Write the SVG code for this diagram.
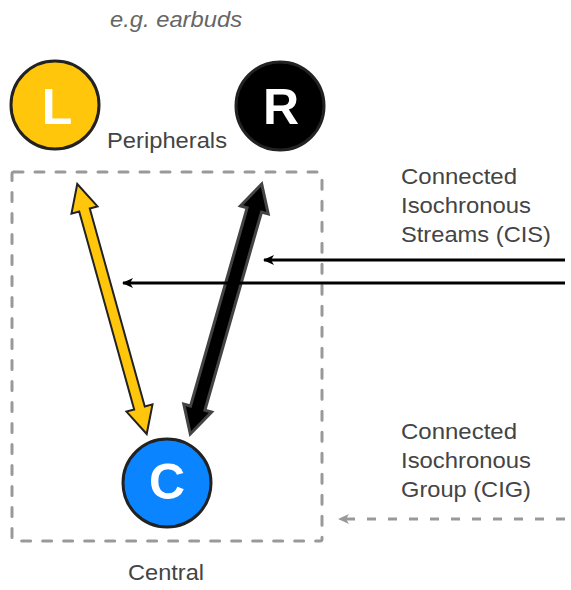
<svg xmlns="http://www.w3.org/2000/svg" width="571" height="590" viewBox="0 0 571 590">
  <defs>
    <style>
      .lbl { font-family: "Liberation Sans", Arial, sans-serif; font-size: 21.5px; fill: #444; }
      .big { font-family: "Liberation Sans", Arial, sans-serif; font-size: 50px; font-weight: bold; fill: #fff; text-anchor: middle; }
      .node { stroke: #222; stroke-width: 3; }
      .frame { fill: none; stroke: #999; stroke-width: 3; stroke-dasharray: 9 12; stroke-linecap: round; }
    </style>
    <marker id="ah" markerUnits="userSpaceOnUse" markerWidth="12" markerHeight="10" refX="10" refY="5" orient="auto">
      <path d="M0,0 L11,5 L0,10 L3,5 Z" fill="#000"/>
    </marker>
    <marker id="ahg" markerUnits="userSpaceOnUse" markerWidth="12" markerHeight="10" refX="10" refY="5" orient="auto">
      <path d="M0,0 L11,5 L0,10 L3,5 Z" fill="#999"/>
    </marker>
  </defs>
  <rect width="571" height="590" fill="#fff"/>

  <text class="lbl" x="110" y="27" textLength="132" lengthAdjust="spacingAndGlyphs" style="font-style:italic; fill:#666">e.g. earbuds</text>
  <text class="lbl" x="107" y="148" textLength="120" lengthAdjust="spacingAndGlyphs">Peripherals</text>
  <text class="lbl" x="128" y="580" textLength="76" lengthAdjust="spacingAndGlyphs">Central</text>
  <g id="cis-label">
    <text class="lbl" x="401" y="184" textLength="116" lengthAdjust="spacingAndGlyphs">Connected</text>
    <text class="lbl" x="401" y="213" textLength="130" lengthAdjust="spacingAndGlyphs">Isochronous</text>
    <text class="lbl" x="401" y="242" textLength="150" lengthAdjust="spacingAndGlyphs">Streams (CIS)</text>
  </g>
  <g id="cig-label">
    <text class="lbl" x="401" y="439" textLength="116" lengthAdjust="spacingAndGlyphs">Connected</text>
    <text class="lbl" x="401" y="468" textLength="130" lengthAdjust="spacingAndGlyphs">Isochronous</text>
    <text class="lbl" x="401" y="497" textLength="130" lengthAdjust="spacingAndGlyphs">Group (CIG)</text>
  </g>

  <g id="cig-frame">
    <rect class="frame" x="12" y="172" width="310" height="369" rx="2"/>
  </g>

  <g id="connectors">
    <polygon transform="translate(77,183) rotate(74.48)" fill="#FFC60B" stroke="#222" stroke-width="2" stroke-linejoin="miter"
      points="1,0 28,-13.5 28,-5.5 233.5,-5.5 233.5,-13.5 260.5,0 233.5,13.5 233.5,5.5 28,5.5 28,13.5"/>
    <polygon transform="translate(262,183) rotate(105.94)" fill="#000" stroke="#444" stroke-width="3" stroke-linejoin="miter"
      points="1,0 28,-14.5 28,-7.5 234.1,-7.5 234.1,-14.5 261.1,0 234.1,14.5 234.1,7.5 28,7.5 28,14.5"/>
    <line x1="565" y1="260" x2="264" y2="260" stroke="#000" stroke-width="3" marker-end="url(#ah)"/>
    <line x1="565" y1="283" x2="123" y2="283" stroke="#000" stroke-width="3" marker-end="url(#ah)"/>
    <line x1="565" y1="519" x2="339" y2="519" stroke="#999" stroke-width="3" stroke-dasharray="9 12" marker-end="url(#ahg)"/>
  </g>

  <g id="node-L">
    <circle class="node" cx="55" cy="105" r="44" fill="#FFC60B"/>
    <text class="big" x="57" y="124">L</text>
  </g>
  <g id="node-R">
    <circle class="node" cx="280" cy="106" r="44" fill="#000"/>
    <text class="big" x="281" y="124">R</text>
  </g>
  <g id="node-C">
    <circle class="node" cx="167" cy="483" r="44" fill="#0A84FF"/>
    <text class="big" x="167" y="499">C</text>
  </g>
</svg>
